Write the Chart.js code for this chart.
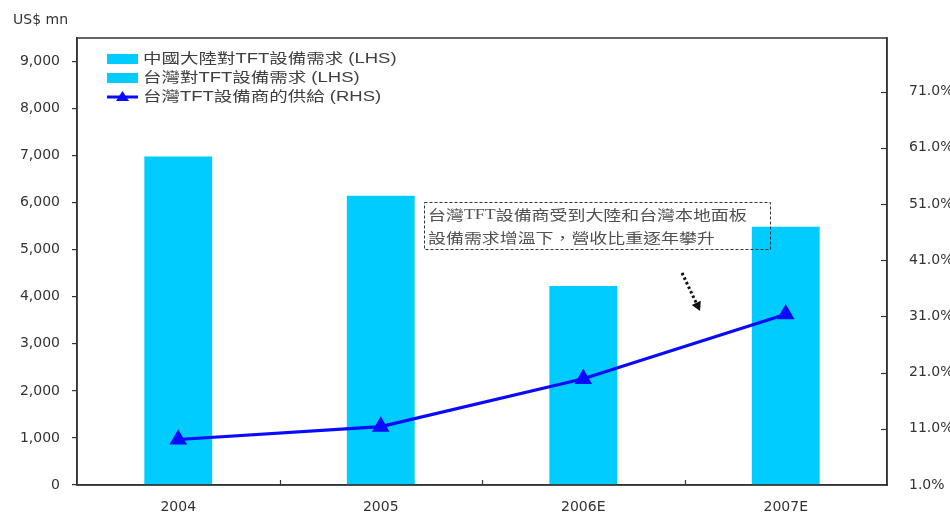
<!DOCTYPE html>
<html><head><meta charset="utf-8">
<script src="https://cdn.jsdelivr.net/npm/chart.js@4.4.1/dist/chart.umd.min.js"></script>
<style>html,body{margin:0;padding:0;background:#fff}#wrap{width:950px;height:515px;position:relative}</style>
</head><body><div id="wrap"><canvas id="c"></canvas></div>
<script>
// ---- data ----
const categories = ['2004', '2005', '2006E', '2007E'];
const chinaDemand = [6980, 6150, 4230, 5490];       // US$ mn (LHS) - visible bar heights
const taiwanDemand = [null, null, null, null];      // same colour, not separable in the picture
const taiwanSupplyShare = [9.1, 11.4, 19.9, 31.4];  // % (RHS)
const leftTicks = [0, 1000, 2000, 3000, 4000, 5000, 6000, 7000, 8000, 9000];
const rightTicks = [1, 11, 21, 31, 41, 51, 61, 71];
const seriesLabels = ['中國大陸對TFT設備需求 (LHS)', '台灣對TFT設備需求 (LHS)', '台灣TFT設備商的供給 (RHS)'];
const unitLabel = 'US$ mn';
const noteLines = [[['台灣', 'cjk'], ['TFT', 'serif'], ['設備商受到大陸和台灣本地面板', 'cjk']], [['設備需求增溫下，營收比重逐年攀升', 'cjk']]];

// ---- styling / placement (not data) ----
const BAR = '#00CCFF', LINE = '#0A0AFF', INK = '#333333';
const note = { x1: 1.214, x2: 2.922, yTop: 6015, yBottom: 5016 };
const arrow = { x1: 2.488, y1: 4506, x2: 2.577, y2: 3698 };
const FONTS = {
  sans: '14px "Liberation Sans", "Noto Sans CJK TC", sans-serif',
  cjk: '14px "Noto Sans CJK TC", "Liberation Sans", sans-serif',
  serif: '14px "Liberation Serif", "Noto Sans CJK TC", serif'
};

function drawRuns(ctx, runs, x, y, sx, color) {
  ctx.save();
  ctx.translate(x, y);
  ctx.scale(sx, 1);
  ctx.fillStyle = color;
  ctx.textBaseline = 'middle';
  ctx.textAlign = 'left';
  let cx = 0;
  runs.forEach(([t, f]) => { ctx.font = FONTS[f]; ctx.fillText(t, cx, 0); cx += ctx.measureText(t).width; });
  ctx.restore();
}

const decor = {
  id: 'decor',
  afterDraw(chart) {
    const { ctx, chartArea: a, scales } = chart;
    const x = scales.x, y = scales.y, y1 = scales.y1;
    ctx.save();
    ctx.strokeStyle = INK; ctx.lineWidth = 1.5; ctx.setLineDash([]);
    ctx.strokeRect(a.left, a.top, a.right - a.left, a.bottom - a.top);
    ctx.lineWidth = 1.2;
    const seg = (x0, y0, x1_, y1_) => { ctx.beginPath(); ctx.moveTo(x0, y0); ctx.lineTo(x1_, y1_); ctx.stroke(); };
    rightTicks.forEach(v => { if (v === y1.min) return; const py = Math.round(y1.getPixelForValue(v)) + 0.5; seg(a.right - 6, py, a.right, py); });
    for (let i = 0; i < categories.length - 1; i++) { const px = Math.round(x.getPixelForValue(i + 0.5)) + 0.5; seg(px, a.bottom - 5, px, a.bottom); }

    // unit label
    ctx.fillStyle = INK; ctx.font = '14px "DejaVu Sans", sans-serif'; ctx.textBaseline = 'middle'; ctx.textAlign = 'left';
    ctx.fillText(unitLabel, a.left - 64, 20);

    // legend (inside plot area)
    const lx = a.left + 30, ly = a.top + 21, rowH = 19;
    const ds = chart.data.datasets;
    [0, 1].forEach(i => { ctx.fillStyle = ds[i].backgroundColor; ctx.fillRect(lx, ly + i * rowH - 5, 31, 10); });
    const ly3 = ly + 2 * rowH;
    ctx.strokeStyle = ds[2].borderColor; ctx.lineWidth = 3; seg(lx, ly3, lx + 31, ly3);
    ctx.fillStyle = ds[2].borderColor; ctx.beginPath();
    ctx.moveTo(lx + 15.5, ly3 - 6); ctx.lineTo(lx + 22, ly3 + 4); ctx.lineTo(lx + 9, ly3 + 4); ctx.closePath(); ctx.fill();
    ds.forEach((d, i) => drawRuns(ctx, [[d.label, 'sans']], lx + 36, ly + i * rowH, 1.32, '#404040'));

    // annotation box
    const bx1 = x.getPixelForValue(note.x1), bx2 = x.getPixelForValue(note.x2);
    const by1 = y.getPixelForValue(note.yTop), by2 = y.getPixelForValue(note.yBottom);
    ctx.strokeStyle = INK; ctx.lineWidth = 1; ctx.setLineDash([3, 2]);
    ctx.strokeRect(Math.round(bx1) + 0.5, Math.round(by1) + 0.5, Math.round(bx2 - bx1), Math.round(by2 - by1));
    ctx.setLineDash([]);
    drawRuns(ctx, noteLines[0], bx1 + 4, by1 + 13, 1.28, '#505050');
    drawRuns(ctx, noteLines[1], bx1 + 4, by1 + 36, 1.28, '#505050');

    // dotted arrow
    const ax1 = x.getPixelForValue(arrow.x1), ay1 = y.getPixelForValue(arrow.y1);
    const ax2 = x.getPixelForValue(arrow.x2), ay2 = y.getPixelForValue(arrow.y2);
    const ang = Math.atan2(ay2 - ay1, ax2 - ax1);
    const hx = ax2 - 9 * Math.cos(ang), hy = ay2 - 9 * Math.sin(ang);
    ctx.strokeStyle = '#111'; ctx.lineWidth = 3; ctx.setLineDash([2.5, 2.5]);
    seg(ax1, ay1, hx, hy);
    ctx.setLineDash([]);
    ctx.fillStyle = '#111'; ctx.beginPath();
    ctx.moveTo(ax2, ay2);
    ctx.lineTo(hx + 5 * Math.cos(ang + Math.PI / 2), hy + 5 * Math.sin(ang + Math.PI / 2));
    ctx.lineTo(hx + 5 * Math.cos(ang - Math.PI / 2), hy + 5 * Math.sin(ang - Math.PI / 2));
    ctx.closePath(); ctx.fill();
    ctx.restore();
  }
};

const tickFont = { family: '"DejaVu Sans", sans-serif', size: 14 };

new Chart(document.getElementById('c'), {
  data: {
    labels: categories,
    datasets: [
      { type: 'bar', label: seriesLabels[0], data: chinaDemand, backgroundColor: BAR, yAxisID: 'y', stack: 'demand', barPercentage: 0.335, categoryPercentage: 1, order: 2 },
      { type: 'bar', label: seriesLabels[1], data: taiwanDemand, backgroundColor: BAR, yAxisID: 'y', stack: 'demand', barPercentage: 0.335, categoryPercentage: 1, order: 2 },
      { type: 'line', label: seriesLabels[2], data: taiwanSupplyShare, borderColor: LINE, backgroundColor: LINE, borderWidth: 3.2, yAxisID: 'y1',
        pointStyle: 'triangle', pointRadius: 7, pointBackgroundColor: LINE, pointBorderColor: LINE, tension: 0, order: 0 }
    ]
  },
  options: {
    responsive: true, maintainAspectRatio: false, animation: false, devicePixelRatio: 1,
    layout: { padding: { top: 38, left: 0, right: 0, bottom: 0 } },
    plugins: { legend: { display: false }, tooltip: { enabled: false }, title: { display: false } },
    scales: {
      x: {
        stacked: true,
        grid: { display: false },
        border: { display: true, color: INK, width: 1.5 },
        ticks: { color: INK, font: tickFont, padding: 6, maxRotation: 0 },
        afterFit(s) { s.height = 30; }
      },
      y: {
        position: 'left', stacked: true, min: 0, max: 9500,
        grid: { display: true, drawOnChartArea: false, drawTicks: true, tickLength: 5, color: INK, lineWidth: 1.2 },
        border: { display: true, color: INK, width: 1.5 },
        afterBuildTicks(s) { s.ticks = leftTicks.map(v => ({ value: v })); },
        ticks: { color: INK, font: tickFont, padding: 12, callback: v => v.toLocaleString('en-US') },
        afterFit(s) { s.width = 77; }
      },
      y1: {
        position: 'right', min: 1, max: 80.55,
        grid: { display: false },
        border: { display: true, color: INK, width: 1.5 },
        afterBuildTicks(s) { s.ticks = rightTicks.map(v => ({ value: v })); },
        ticks: { color: INK, font: tickFont, padding: 14, callback: v => v.toFixed(1) + '%' },
        afterFit(s) { s.width = 63; }
      }
    }
  },
  plugins: [decor]
});
</script>
</body></html>
